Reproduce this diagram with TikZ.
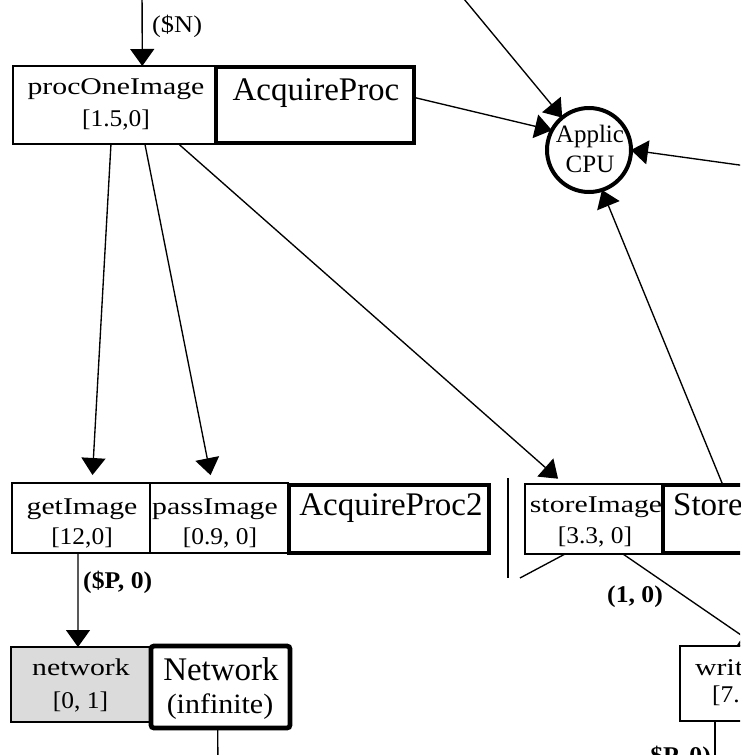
\documentclass[tikz,border=0pt]{standalone}
\usepackage{fontspec}
\setmainfont{Liberation Serif}
\usepackage{graphicx}
\usetikzlibrary{arrows.meta,calc}
% horizontally widened words and numbers, as in the layout tool's rendering
\newcommand\sword[1]{\scalebox{1.24}[1]{#1}}
\newcommand\snum[1]{\scalebox{1.06}[1]{#1}}
\newcommand\slbl[1]{\scalebox{1.07}[1]{#1}}
\begin{document}
\begin{tikzpicture}[x=1pt,y=-1pt,
  box/.style={draw, line width=2.5pt, inner sep=0pt, outer sep=0pt},
  heavybox/.style={draw, line width=4.8pt, inner sep=0pt, outer sep=0pt},
  txt/.style={inner sep=0pt, anchor=base, font=\fontsize{24}{24}\selectfont},
  bigtxt/.style={inner sep=0pt, anchor=base, font=\fontsize{33}{33}\selectfont},
  lbl/.style={inner sep=0pt, anchor=base west, font=\bfseries\fontsize{24}{24}\selectfont},
  conn/.style={line width=1.35pt},
  arr/.style={conn, -{Triangle[length=17pt,width=24pt]}},
]
\useasboundingbox (0,0) rectangle (740,755);
\clip (0,0) rectangle (740,755);

% ---------- tasks and processors ----------
\node[box, minimum width=202pt, minimum height=78pt] (proc) at (114,105) {};
\node[heavybox, minimum width=198pt, minimum height=76pt] (acq) at (315,105) {};
\node[circle, draw, line width=4pt, minimum size=84pt, inner sep=0pt, outer sep=0pt] (cpu) at (589,150) {};

\node[box, minimum width=138pt, minimum height=70pt] (get) at (81,518) {};
\node[box, minimum width=138pt, minimum height=70pt] (pass) at (219,518) {};
\node[heavybox, minimum width=200pt, minimum height=68pt] (acqB) at (389,519) {};

\node[box, minimum width=138pt, minimum height=70pt] (store) at (594,519) {};
\node[heavybox, minimum width=136pt, minimum height=68pt] (storeP) at (731,519) {};

\node[box, fill=black!14, minimum width=139pt, minimum height=75pt] (net) at (80.5,684.5) {};
\node[heavybox, rounded corners=3pt, fill=white, minimum width=139pt, minimum height=82pt] (netP) at (220.5,687) {};

\node[box, minimum width=140pt, minimum height=75pt] (writ) at (750,683.5) {};

% ---------- texts ----------
\node[txt] (procA) at (116,94) {\sword{procOneImage}};
\node[txt] (procB) at (116,126) {\snum{[1.5,0]}};
\node[bigtxt] (acqA) at (316,100) {AcquireProc};
\node[txt, font=\fontsize{25}{25}\selectfont] (cpuA) at (590,142) {Applic};
\node[txt, font=\fontsize{25}{25}\selectfont] (cpuB) at (590,172) {CPU};

\node[txt] (getA) at (82,514) {\sword{getImage}};
\node[txt] (getB) at (82,544) {\snum{[12,0]}};
\node[txt] (passA) at (215,514) {\sword{passImage}};
\node[txt] (passB) at (220,544) {\snum{[0.9, 0]}};
\node[bigtxt] (acqBA) at (391,515) {AcquireProc2};

\node[txt] (storeA) at (596,512) {\sword{storeImage}};
\node[txt] (storeB) at (595,543) {\snum{[3.3, 0]}};
\node[bigtxt, anchor=base west] (storePA) at (673,515) {Store};

\node[txt] (netA) at (81,675) {\sword{network}};
\node[txt] (netB) at (80.5,708) {\snum{[0, 1]}};
\node[bigtxt] (netPA) at (221,680) {Network};
\node[txt, font=\fontsize{28}{28}\selectfont] (netPB) at (220,713) {\scalebox{1.07}[1]{(infinite)}};

\node[txt, anchor=base west] (writA) at (695,675) {\sword{writ}};
\node[txt, anchor=base west] (writB) at (712,702) {\snum{[7.1}};

% ---------- free ends of connectors ----------
\coordinate (topIn) at (142,-20);
\coordinate (farTop) at (440,-30);
\coordinate (farRight) at (800,173.4);
\coordinate (cutEnd) at (520,578);
\coordinate (barTop) at (508,478);
\coordinate (barBot) at (508,578);
\coordinate (netOut) at (218,780);
\coordinate (writOut) at (715,780);

% ---------- connectors ----------
\draw[arr] (topIn) -- ($(proc.north west)!0.64!(proc.north east)$);
\node[txt, anchor=base west] (nLbl) at (152,32) {\scalebox{1.1}[1]{(\$N)}};

\draw[arr] (farTop) -- (cpu);
\draw[arr] ($(acq.north east)!0.4!(acq.south east)$) -- (cpu.152);
\draw[arr] (farRight) -- (cpu.east);
\draw[arr] ($(storeP.north west)!0.44!(storeP.north east)$) -- (cpu.-72);

\draw[arr, shorten >=8pt] ($(proc.south west)!0.485!(proc.south east)$) -- ($(get.north west)!0.58!(get.north east)$);
\draw[arr, shorten >=8pt] ($(proc.south west)!0.653!(proc.south east)$) -- ($(pass.north west)!0.45!(pass.north east)$);
\draw[arr, shorten >=8pt] ($(proc.south west)!0.82!(proc.south east)$) -- ($(store.north west)!0.283!(store.north east)$);

\draw[arr] ($(get.south west)!0.478!(get.south east)$) -- ($(net.north west)!0.482!(net.north east)$);
\node[lbl] (pLbl) at (83,588) {\slbl{(\$P, 0)}};

\draw[arr] ($(store.south west)!0.71!(store.south east)$) -- ($(writ.north west)!0.55!(writ.north east)$);
\node[lbl] (oneLbl) at (607,602) {\slbl{(1, 0)}};

\draw[conn] ($(store.south west)!0.29!(store.south east)$) -- (cutEnd);
\draw[conn] (barTop) -- (barBot);

\draw[conn] ($(netP.south west)!0.48!(netP.south east)$) -- (netOut);
\draw[conn] ($(writ.south west)!0.25!(writ.south east)$) -- (writOut);
\node[lbl, anchor=base east] (p2Lbl) at (711,763) {\slbl{\$P, 0)}};
\end{tikzpicture}
\end{document}
